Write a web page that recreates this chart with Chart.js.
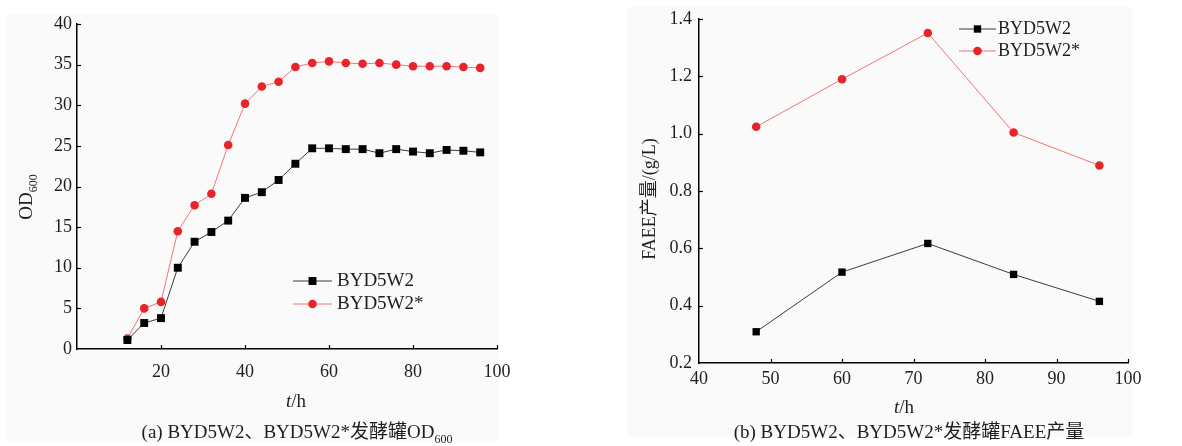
<!DOCTYPE html>
<html><head><meta charset="utf-8">
<script src="https://cdn.jsdelivr.net/npm/chart.js@4/dist/chart.umd.min.js"></script>
<style>
body{margin:0;background:#fff;width:1182px;height:446px;overflow:hidden;position:relative}
.panel{position:absolute;background:#fafafa}
canvas{position:absolute;top:0}
</style></head><body>
<div class="panel" style="left:7px;top:15px;width:492px;height:426px"></div>
<div class="panel" style="left:627px;top:7px;width:505px;height:430px"></div>
<canvas id="ca" width="560" height="446" style="left:0"></canvas>
<canvas id="cb" width="582" height="446" style="left:600px"></canvas>
<script>
// ---- data ----
const seriesNames = ['BYD5W2', 'BYD5W2*'];
const odHours = [12,16,20,24,28,32,36,40,44,48,52,56,60,64,68,72,76,80,84,88,92,96];
const odBYD5W2 = [1.1,3.2,3.8,10.0,13.2,14.4,15.8,18.6,19.3,20.8,22.8,24.7,24.7,24.6,24.6,24.1,24.6,24.3,24.1,24.5,24.4,24.2];
const odBYD5W2s = [1.3,5.0,5.8,14.5,17.7,19.1,25.1,30.2,32.3,32.9,34.7,35.2,35.4,35.2,35.1,35.2,35.0,34.8,34.8,34.8,34.7,34.6];
const faeeHours = [48,60,72,84,96];
const faeeBYD5W2 = [0.309,0.517,0.617,0.509,0.415];
const faeeBYD5W2s = [1.024,1.190,1.351,1.004,0.889];
const odXTicks = [20,40,60,80,100];
const odYTicks = [0,5,10,15,20,25,30,35,40];
const faeeXTicks = [40,50,60,70,80,90,100];
const faeeYTicks = [0.2,0.4,0.6,0.8,1.0,1.2,1.4];

const FONT = "'Liberation Serif','Noto Sans CJK SC'";
const TXT = '#1e1e1e';

function pts(xs, ys){ return xs.map((x,i)=>({x:x, y:ys[i]})); }

function fontOf(s, size){
  const sz = s.sub ? Math.round(size*0.62) : size;
  return (s.italic ? 'italic ' : '') + sz + 'px ' + FONT;
}
function rich(ctx, segs, cx, cy, size, rot){
  ctx.save();
  ctx.translate(cx, cy);
  if (rot) ctx.rotate(rot);
  let w = 0;
  const ms = segs.map(s=>{ ctx.font = fontOf(s,size); const sw = ctx.measureText(s.t).width; w += sw; return {s, f:ctx.font, sw}; });
  let x = -w/2;
  ctx.textBaseline = 'middle';
  ctx.textAlign = 'left';
  ctx.fillStyle = TXT;
  ms.forEach(m=>{ ctx.font = m.f; ctx.fillText(m.s.t, x, m.s.sub ? size*0.38 : 0); x += m.sw; });
  ctx.restore();
}
function marker(ctx, ds, x, y){
  ctx.fillStyle = ds.pointBackgroundColor;
  if (ds.pointStyle === 'rect'){
    const h = Math.SQRT1_2 * ds.pointRadius;
    ctx.fillRect(x-h, y-h, 2*h, 2*h);
  } else {
    ctx.beginPath(); ctx.arc(x, y, ds.pointRadius, 0, Math.PI*2); ctx.fill();
  }
}

const deco = {
  id: 'deco',
  afterDraw(chart, args, o){
    const ctx = chart.ctx, ca = chart.chartArea, xs = chart.scales.x, ys = chart.scales.y;
    ctx.save();
    ctx.strokeStyle = '#000'; ctx.lineWidth = 1.2;
    xs.ticks.forEach(t=>{
      if (t.value <= xs.min) return;
      const px = Math.round(xs.getPixelForValue(t.value)) + 0.5;
      ctx.beginPath(); ctx.moveTo(px, ca.bottom); ctx.lineTo(px, ca.bottom-4); ctx.stroke();
    });
    ys.ticks.forEach(t=>{
      if (t.value <= ys.min) return;
      const py = Math.round(ys.getPixelForValue(t.value)) + 0.5;
      ctx.beginPath(); ctx.moveTo(ca.left, py); ctx.lineTo(ca.left+4, py); ctx.stroke();
    });
    // legend
    const L = o.legend;
    chart.data.datasets.forEach((ds, i)=>{
      const y = L.y[i];
      ctx.strokeStyle = ds.borderColor; ctx.lineWidth = 1.2;
      ctx.beginPath(); ctx.moveTo(L.x1, y); ctx.lineTo(L.x2, y); ctx.stroke();
      marker(ctx, ds, (L.x1+L.x2)/2, y);
      ctx.font = L.size + 'px ' + FONT; ctx.fillStyle = TXT;
      ctx.textBaseline = 'middle'; ctx.textAlign = 'left';
      ctx.fillText(ds.label, L.tx, y);
    });
    // titles
    o.titles.forEach(t=> rich(ctx, t.segs, t.x, t.y, t.size, t.rot));
    ctx.restore();
  }
};

function dsets(x, a, b, rs, rc){
  return [
    {label: seriesNames[0], data: pts(x, a), borderColor:'#3c3c3c', borderWidth:1,
     pointStyle:'rect', pointRadius:rs, pointHoverRadius:rs, pointBackgroundColor:'#000', pointBorderWidth:0, clip:false},
    {label: seriesNames[1], data: pts(x, b), borderColor:'#f07474', borderWidth:1,
     pointStyle:'circle', pointRadius:rc, pointHoverRadius:rc, pointBackgroundColor:'#e8242b', pointBorderWidth:0, clip:false}
  ];
}

function makeChart(id, cfg){
  return new Chart(document.getElementById(id), {
    type:'line',
    data:{datasets: dsets(cfg.x, cfg.a, cfg.b, cfg.rs, cfg.rc)},
    options:{
      responsive:false, animation:false, devicePixelRatio:1,
      layout:{padding:{left:0, right:cfg.padR, top:cfg.padT, bottom:0}},
      plugins:{legend:{display:false}, tooltip:{enabled:false}, deco:{legend:cfg.legend, titles:cfg.titles}},
      scales:{
        x:{type:'linear', min:cfg.xTicks[0] === 20 ? 0 : cfg.xTicks[0], max:cfg.xTicks[cfg.xTicks.length-1],
           afterBuildTicks: s=>{ s.ticks = (cfg.xTicks[0]===20 ? [0].concat(cfg.xTicks) : cfg.xTicks).map(v=>({value:v})); },
           grid:{display:false, drawTicks:false},
           border:{display:true, color:'#000', width:1.5},
           ticks:{padding:cfg.xPad, color:TXT, font:{family:FONT, size:18}, maxRotation:0, autoSkip:false,
                  callback: v => v === 0 ? '' : String(v)},
           afterFit: s=>{ s.height = cfg.xH; }},
        y:{type:'linear', min:cfg.yTicks[0], max:cfg.yTicks[cfg.yTicks.length-1],
           afterBuildTicks: s=>{ s.ticks = cfg.yTicks.map(v=>({value:v})); },
           grid:{display:false, drawTicks:false},
           border:{display:true, color:'#000', width:1.5},
           ticks:{padding:cfg.yPad, color:TXT, font:{family:FONT, size:18}, autoSkip:false,
                  callback: v => cfg.yFmt(v)},
           afterFit: s=>{ s.width = cfg.yW; }}
      }
    },
    plugins:[deco]
  });
}

makeChart('ca', {
  x: odHours, a: odBYD5W2, b: odBYD5W2s, rs:5.6, rc:4.3,
  xTicks: odXTicks, yTicks: odYTicks, yFmt: v => String(v),
  padR: 63, padT: 24, xH: 97, yW: 77, xPad: 12, yPad: 5,
  legend: {x1:293, x2:332, tx:337, y:[281,304], size:19},
  titles: [
    {segs:[{t:'t',italic:true},{t:'/h'}], x:296, y:402, size:19},
    {segs:[{t:'OD'},{t:'600',sub:true}], x:27, y:197, size:19, rot:-Math.PI/2},
    {segs:[{t:'(a) BYD5W2、BYD5W2*发酵罐OD'},{t:'600',sub:true}], x:297, y:433, size:19}
  ]
});

makeChart('cb', {
  x: faeeHours, a: faeeBYD5W2, b: faeeBYD5W2s, rs:5.2, rc:4.3,
  xTicks: faeeXTicks, yTicks: faeeYTicks, yFmt: v => v.toFixed(1),
  padR: 54, padT: 19, xH: 83, yW: 99, xPad: 5, yPad: 7,
  legend: {x1:359, x2:396, tx:398, y:[29,51], size:18},
  titles: [
    {segs:[{t:'t',italic:true},{t:'/h'}], x:304, y:408, size:19},
    {segs:[{t:'FAEE产量/(g/L)'}], x:50, y:199, size:18, rot:-Math.PI/2},
    {segs:[{t:'(b) BYD5W2、BYD5W2*发酵罐FAEE产量'}], x:309, y:433, size:19}
  ]
});
</script>
</body></html>
